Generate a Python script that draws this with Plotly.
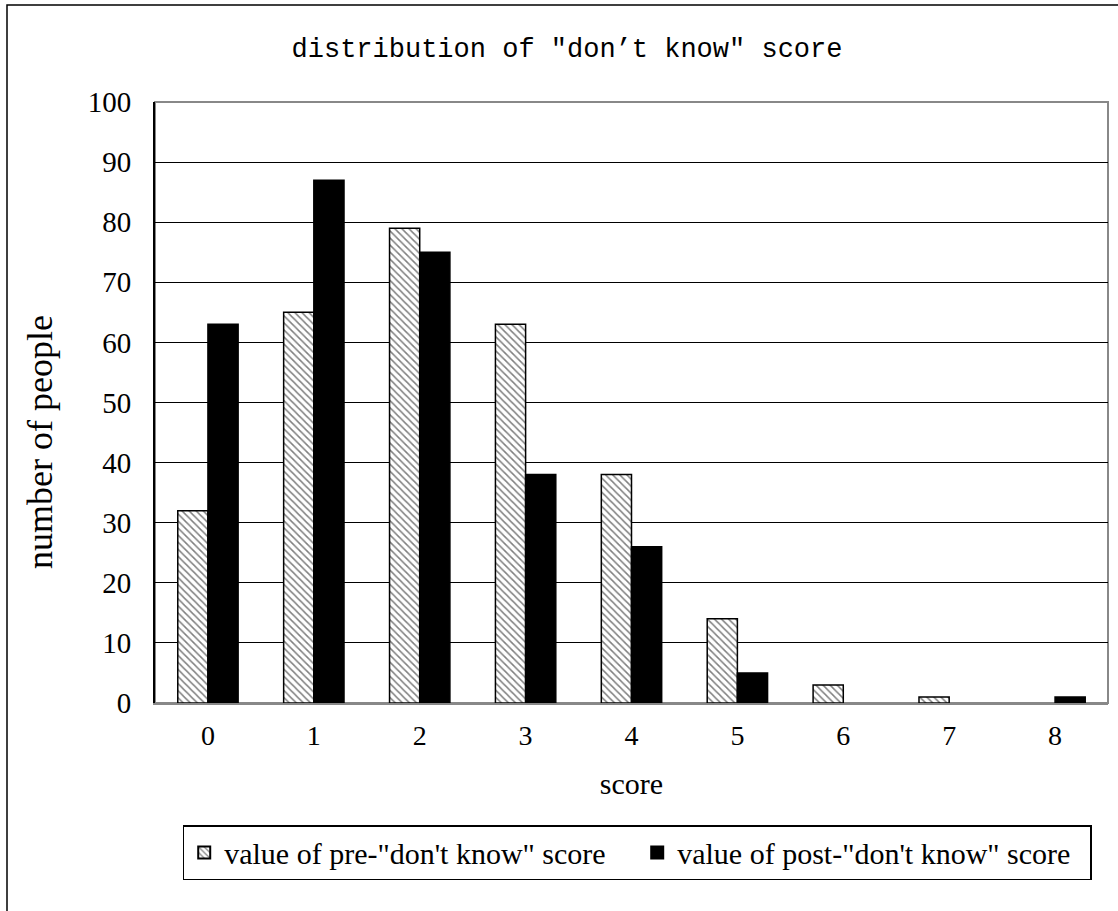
import plotly.graph_objects as go

scores = ["0", "1", "2", "3", "4", "5", "6", "7", "8"]
pre_counts = [32, 65, 79, 63, 38, 14, 3, 1, 0]
post_counts = [63, 87, 75, 38, 26, 5, 0, 0, 1]
y_ticks = [0, 10, 20, 30, 40, 50, 60, 70, 80, 90, 100]

serif = "Liberation Serif"


def outline_widths(values):
    # empty bars get no outline so nothing is drawn on the baseline
    return [1.5 if v > 0 else 0 for v in values]


fig = go.Figure()
fig.add_trace(go.Bar(
    x=scores, y=pre_counts,
    name="value of pre-\"don't know\" score",
    marker=dict(
        color="white",
        line=dict(color="black", width=outline_widths(pre_counts)),
        pattern=dict(shape="\\", fgcolor="black", bgcolor="white",
                     size=5, solidity=0.3, fillmode="overlay"),
    ),
))
fig.add_trace(go.Bar(
    x=scores, y=post_counts,
    name="value of post-\"don't know\" score",
    marker=dict(color="black", line=dict(color="black", width=outline_widths(post_counts))),
))

fig.update_layout(
    width=1118, height=911,
    margin=dict(l=155, r=10, t=102, b=208),
    paper_bgcolor="white", plot_bgcolor="white",
    barmode="group", bargap=0.43, bargroupgap=0,
    title=dict(
        text="distribution of ″don’t know″ score",
        font=dict(family="Liberation Mono, Courier New, DejaVu Sans Mono, monospace",
                  size=27, color="black"),
        x=567 / 1118, xref="container", xanchor="center",
        y=1 - 48 / 911, yref="container", yanchor="middle",
    ),
    font=dict(family=serif, color="black"),
    xaxis=dict(
        title=dict(text="score", font=dict(family=serif, size=30), standoff=23),
        tickfont=dict(family=serif, size=28),
        ticklabelstandoff=6,
        showline=True, linecolor="#888888", linewidth=2,
        ticks="", showgrid=False,
    ),
    yaxis=dict(
        range=[0, 100], tickvals=y_ticks,
        tickfont=dict(family=serif, size=29),
        ticklabelstandoff=16,
        showline=True, linecolor="black", linewidth=2,
        ticks="inside", ticklen=8, tickcolor="black",
        showgrid=True, gridcolor="black", gridwidth=1,
        zeroline=False,
    ),
    legend=dict(
        orientation="h",
        x=0.506, xanchor="center", xref="paper",
        y=-0.203, yanchor="top",
        bordercolor="black", borderwidth=1.5,
        font=dict(family=serif, size=30),
        itemsizing="constant",
        entrywidth=408, entrywidthmode="pixels",
        traceorder="normal",
    ),
    showlegend=True,
)

# y-axis title, placed as rotated text
fig.add_annotation(
    text="number of people", textangle=-90,
    font=dict(family=serif, size=36, color="black"),
    xref="paper", yref="paper",
    x=-115 / 953, y=(703 - 442) / 601,
    xanchor="center", yanchor="middle", showarrow=False,
)

# plot-area frame (grey top / right edges)
fig.add_shape(type="rect", xref="paper", yref="paper", x0=0, x1=1, y0=0, y1=1,
              line=dict(color="#888888", width=2), layer="below")
# outer chart border
fig.add_shape(type="rect", xref="paper", yref="paper",
              x0=-148 / 953, x1=1.02, y0=-0.36, y1=1 + 97 / 601,
              line=dict(color="black", width=1.5))

fig.write_html("out.html")
